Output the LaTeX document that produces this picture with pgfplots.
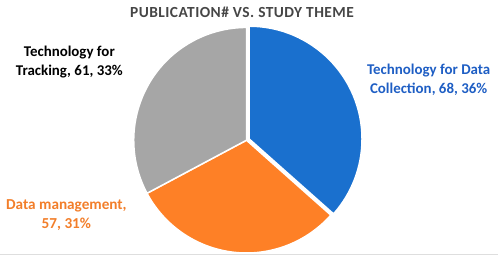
\documentclass[border=0pt]{standalone}
\usepackage{fontspec}
\setmainfont{Carlito}
\usepackage{pgfplots}
\usepackage{pgfplotstable}
\pgfplotsset{compat=1.18}
\definecolor{pieblue}{RGB}{26,112,206}
\definecolor{pieorange}{RGB}{254,128,38}
\definecolor{piegray}{RGB}{166,166,166}
\definecolor{bluetext}{RGB}{30,94,196}
\definecolor{orangetext}{RGB}{242,126,42}
\definecolor{titlegray}{RGB}{70,70,70}
\definecolor{framegray}{RGB}{222,222,222}

\pgfplotstableread{
theme value
DataCollection 68
DataManagement 57
Tracking 61
}\piedata
\pgfplotstablegetelem{0}{value}\of\piedata \let\va\pgfplotsretval
\pgfplotstablegetelem{1}{value}\of\piedata \let\vb\pgfplotsretval
\pgfplotstablegetelem{2}{value}\of\piedata \let\vc\pgfplotsretval
\pgfmathsetmacro\total{\va+\vb+\vc}
\pgfmathsetmacro\aA{90-360*(\va/\total)}
\pgfmathsetmacro\aB{\aA-360*(\vb/\total)}
\pgfmathsetmacro\midA{(90+\aA)/2}
\def\cx{246.5}
\def\cy{117.5}
\def\R{113bp}

\begin{document}%
\begin{tikzpicture}
\begin{axis}[
  scale only axis, width=498bp, height=258bp,
  xmin=0, xmax=498, ymin=0, ymax=258,
  hide axis, clip=false,
]
\path[draw=none] (axis cs:0,0) rectangle (axis cs:498,258);
\draw[framegray, line width=1bp] (axis cs:0,3) -- (axis cs:498,3);
% blue slice (slightly exploded)
\filldraw[fill=pieblue, draw=white, line width=1.5bp, shift={(\midA:3bp)}]
  (axis cs:\cx,\cy) -- ++(90:\R) arc[start angle=90, end angle=\aA, radius=\R] -- cycle;
% orange slice
\filldraw[fill=pieorange, draw=white, line width=1.5bp]
  (axis cs:\cx,\cy) -- ++(\aA:\R) arc[start angle=\aA, end angle=\aB, radius=\R] -- cycle;
% gray slice
\filldraw[fill=piegray, draw=white, line width=1.5bp]
  (axis cs:\cx,\cy) -- ++(\aB:\R) arc[start angle=\aB, end angle=-270, radius=\R] -- cycle;

\node[font=\fontsize{15.5}{17}\selectfont\bfseries\addfontfeature{LetterSpace=3}, text=titlegray] at (axis cs:242,245.5) {PUBLICATION\# VS. STUDY THEME};
\node[font=\fontsize{15}{19}\selectfont\bfseries, text=black, align=center] at (axis cs:69,195.5) {Technology for\\Tracking, 61, 33\%};
\node[font=\fontsize{15}{19}\selectfont\bfseries, text=bluetext, align=center] at (axis cs:429,178) {Technology for Data\\Collection, 68, 36\%};
\node[font=\fontsize{15.3}{19}\selectfont\bfseries, text=orangetext, align=center] at (axis cs:66,42.5) {Data management,\\57, 31\%};
\end{axis}
\end{tikzpicture}%
\end{document}
